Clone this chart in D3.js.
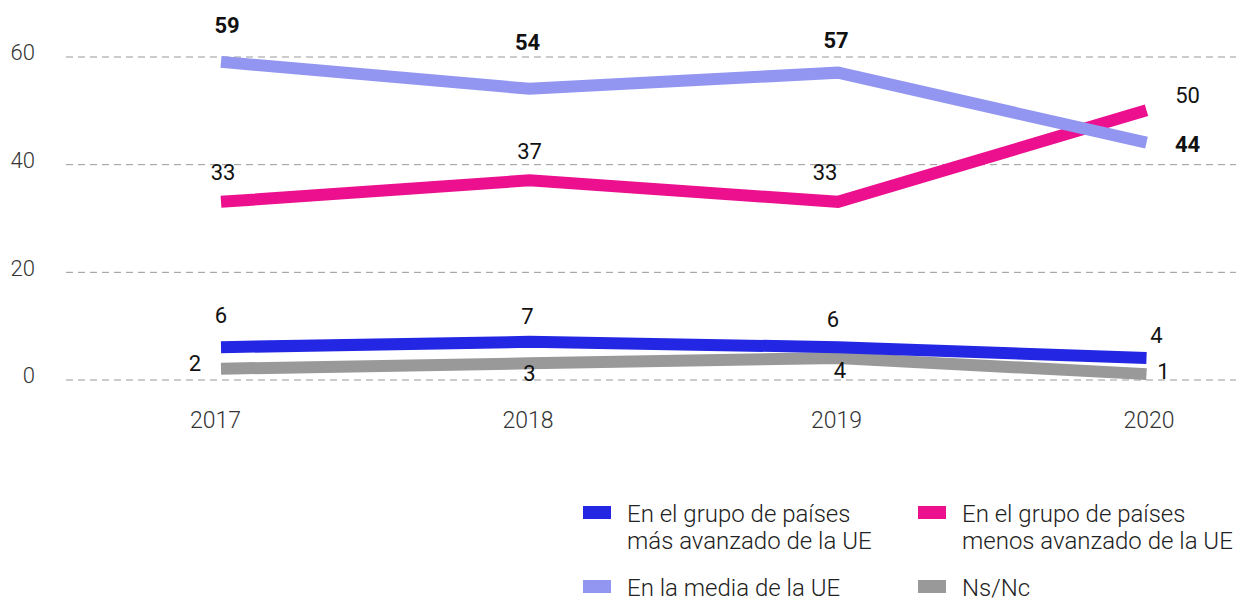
<!DOCTYPE html>
<html>
<head>
<meta charset="utf-8">
<script src="https://cdn.jsdelivr.net/npm/d3@7"></script>
<style>
  body { margin: 0; background: #fff; }
  svg text { font-family: Roboto, "Noto Sans", sans-serif; }
</style>
</head>
<body>
<div class="chart"></div>
<script>
// data
let years = [2017, 2018, 2019, 2020];
let mediaUE = [59, 54, 57, 44];
let menosAvanzado = [33, 37, 33, 50];
let masAvanzado = [6, 7, 6, 4];
let nsnc = [2, 3, 4, 1];
let yTicks = [0, 20, 40, 60];

let seriesNames = [
  ["En el grupo de países", "más avanzado de la UE"],
  ["En el grupo de países", "menos avanzado de la UE"],
  ["En la media de la UE"],
  ["Ns/Nc"]
];

let svgWidth = 1236;
let svgHeight = 601;

let svg = d3.select(".chart")
  .append("svg")
  .attr("width", svgWidth)
  .attr("height", svgHeight);

let x = d3.scaleLinear()
  .domain([2017, 2020])
  .range([221, 1146.5]);

let y = d3.scaleLinear()
  .domain([0, 60])
  .range([379.5, 56.5]);

// gridlines
let yAxis = d3.axisLeft(y)
  .tickValues(yTicks)
  .tickSize(-(1236 - 66))
  .tickFormat(d3.format("d"));

let yAxisG = svg.append("g")
  .attr("transform", "translate(66,0)")
  .call(yAxis);
yAxisG.select(".domain").remove();
yAxisG.selectAll(".tick line")
  .attr("stroke", "#999")
  .attr("stroke-width", 1)
  .attr("stroke-dasharray", "7,5");
yAxisG.selectAll(".tick text")
  .attr("x", -31)
  .attr("dy", "0.15em")
  .attr("fill", "#333")
  .attr("font-size", 22)
  .attr("font-weight", 300);

let xAxis = d3.axisBottom(x)
  .tickValues(years)
  .tickSize(0)
  .tickFormat(d3.format("d"));

let xAxisG = svg.append("g")
  .attr("transform", "translate(0,409)")
  .call(xAxis);
xAxisG.select(".domain").remove();
xAxisG.selectAll(".tick text")
  .attr("fill", "#333")
  .attr("font-size", 23)
  .attr("font-weight", 300)
  .attr("dx", (d, i) => i === 0 ? -6 : (i === 3 ? 2 : -2));

// series (drawing order: back to front)
let series = [
  { values: nsnc, color: "#999999", bold: false,
    offs: [[-26, 2], [0, 18], [2, 20], [17, 5]] },
  { values: masAvanzado, color: "#2327e3", bold: false,
    offs: [[0, -24], [-2, -18], [-5, -20], [10, -15]] },
  { values: menosAvanzado, color: "#ec0f8e", bold: false,
    offs: [[2, -22], [0, -21], [-13, -22], [41, -7]] },
  { values: mediaUE, color: "#9296f0", bold: true,
    offs: [[6, -29], [-2, -39], [-2, -25], [41, 9]] }
];

let line = d3.line()
  .x((d, i) => x(years[i]))
  .y(d => y(d));

series.forEach(function(s) {
  svg.append("path")
    .datum(s.values)
    .attr("d", line)
    .attr("fill", "none")
    .attr("stroke", s.color)
    .attr("stroke-width", 12)
    .attr("stroke-linejoin", "miter")
    .attr("stroke-linecap", "butt");
});

series.forEach(function(s) {
  svg.selectAll(null)
    .data(s.values)
    .enter()
    .append("text")
    .attr("x", (d, i) => x(years[i]) + s.offs[i][0])
    .attr("y", (d, i) => y(d) + s.offs[i][1])
    .attr("text-anchor", "middle")
    .attr("font-size", 22)
    .attr("font-weight", s.bold ? 700 : 400)
    .attr("fill", "#111")
    .text(d => d);
});

// legend
let legendItems = [
  { color: "#2327e3", lines: seriesNames[0], x: 583, y: 506 },
  { color: "#ec0f8e", lines: seriesNames[1], x: 918, y: 506 },
  { color: "#9296f0", lines: seriesNames[2], x: 583, y: 580 },
  { color: "#999999", lines: seriesNames[3], x: 918, y: 580 }
];

let legend = svg.selectAll(".legend")
  .data(legendItems)
  .enter()
  .append("g")
  .attr("class", "legend")
  .attr("transform", d => `translate(${d.x}, ${d.y})`);

legend.append("rect")
  .attr("width", 28)
  .attr("height", 13)
  .attr("fill", d => d.color);

legend.append("text")
  .attr("x", 44)
  .attr("y", 16)
  .attr("font-size", 24)
  .attr("font-weight", 300)
  .attr("fill", "#222")
  .selectAll("tspan")
  .data(d => d.lines)
  .enter()
  .append("tspan")
  .attr("x", 44)
  .attr("dy", (d, i) => i === 0 ? 0 : 27)
  .text(d => d);
</script>
</body>
</html>
